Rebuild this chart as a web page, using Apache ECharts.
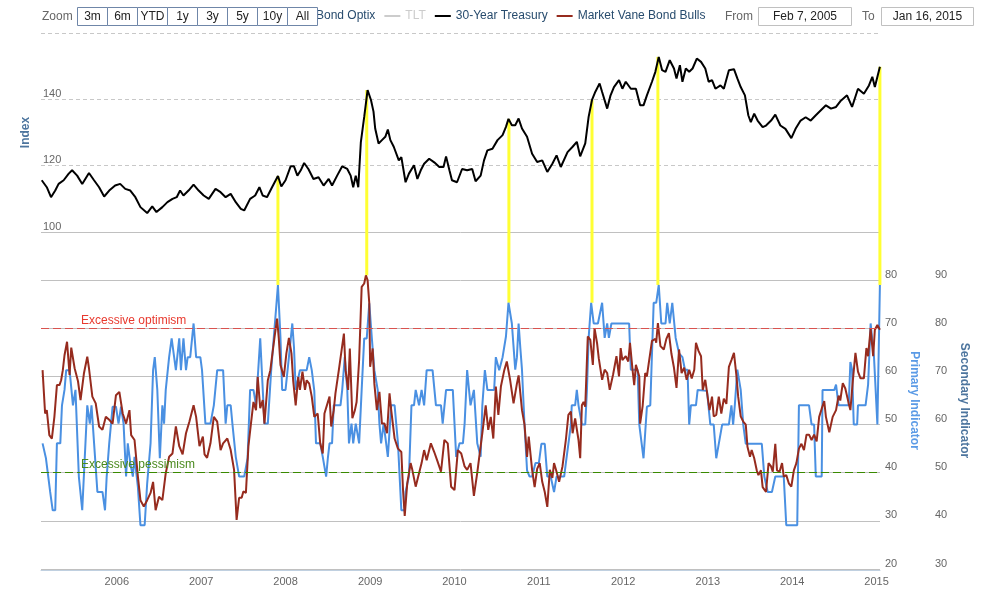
<!DOCTYPE html>
<html><head><meta charset="utf-8">
<script src="https://cdn.jsdelivr.net/npm/echarts@6/dist/echarts.min.js"></script>
<style>html,body{margin:0;padding:0;background:#fff}#c{width:992px;height:591px}</style>
</head><body><div id="c"></div>
<script>
// ---- 30-Year Treasury (upper pane, Index) : decimal-year dates and values
const treasuryT = [2005.11,2005.17,2005.22,2005.27,2005.31,2005.37,2005.43,2005.47,2005.53,2005.59,2005.67,2005.73,2005.79,2005.85,2005.91,2005.98,2006.04,2006.10,2006.16,2006.22,2006.28,2006.36,2006.42,2006.47,2006.54,2006.60,2006.66,2006.71,2006.75,2006.79,2006.85,2006.91,2006.97,2007.03,2007.09,2007.17,2007.23,2007.29,2007.35,2007.41,2007.47,2007.51,2007.58,2007.64,2007.69,2007.73,2007.78,2007.84,2007.91,2007.95,2008.00,2008.06,2008.10,2008.14,2008.18,2008.22,2008.27,2008.33,2008.39,2008.45,2008.51,2008.55,2008.61,2008.67,2008.73,2008.77,2008.80,2008.83,2008.86,2008.89,2008.93,2008.97,2009.01,2009.04,2009.06,2009.10,2009.14,2009.18,2009.21,2009.24,2009.28,2009.34,2009.37,2009.42,2009.46,2009.52,2009.56,2009.60,2009.64,2009.70,2009.76,2009.82,2009.87,2009.90,2009.94,2009.97,2010.03,2010.09,2010.15,2010.21,2010.25,2010.31,2010.35,2010.39,2010.45,2010.51,2010.57,2010.61,2010.64,2010.68,2010.72,2010.76,2010.80,2010.86,2010.92,2010.98,2011.04,2011.10,2011.16,2011.21,2011.26,2011.34,2011.40,2011.45,2011.49,2011.55,2011.59,2011.63,2011.67,2011.72,2011.75,2011.81,2011.85,2011.89,2011.95,2011.99,2012.03,2012.09,2012.15,2012.20,2012.24,2012.28,2012.34,2012.38,2012.42,2012.46,2012.50,2012.55,2012.60,2012.63,2012.67,2012.70,2012.74,2012.78,2012.82,2012.87,2012.92,2012.97,2013.01,2013.05,2013.09,2013.15,2013.19,2013.25,2013.31,2013.35,2013.39,2013.44,2013.48,2013.51,2013.55,2013.59,2013.65,2013.69,2013.75,2013.80,2013.86,2013.92,2013.99,2014.04,2014.10,2014.16,2014.22,2014.28,2014.34,2014.40,2014.46,2014.52,2014.57,2014.65,2014.71,2014.78,2014.85,2014.91,2014.95,2014.98,2015.04];
const treasuryV = [115.6,113.5,110.5,112.5,114.5,115.6,117.6,118.6,117,114.5,117.8,115.6,113.5,110.7,112.5,114,114.5,113,112.5,110.5,107.5,105.7,107.7,106,107.5,109,110,110.5,112.5,111,112.5,114.3,112.5,111,110,113,112,110.5,111.5,109,107,106.5,110,111,113.5,111,110.5,113.5,116.9,113.7,115.6,119.8,119.8,117,118.6,120.8,119,116,116.5,114,116,114,117,119.8,119,117,113.5,117,113.5,127,134.7,142.8,139.8,136.3,131.2,126.7,127.7,128.7,130.9,127.7,125.7,121.6,122.6,115,117.6,120.1,116,118.6,120.6,122.1,121,119.6,119.6,122.8,118.6,115.6,115,119,118.6,119,115.3,117,121.6,124.6,125.1,127.7,129.2,131.7,134.1,132.2,132.2,134.2,131.2,128.7,123.6,121.1,121.6,118.1,120.6,123.1,119.6,124.1,125.7,127.2,122.8,126.7,134.7,139.8,142.3,144.8,142.2,137.2,141.2,143.7,145.8,143.2,145.3,143.2,143.2,138.2,138.2,141.2,145.3,148.3,152.8,148.8,148.3,151.8,149.3,146.3,150.3,145.3,149.3,148.3,149.3,152.3,151.3,149.3,145.3,145.8,143.2,144.2,143.2,148.8,149.1,146.3,143.7,141.2,135.2,133.1,135.7,133.6,131.6,132.1,133.6,135.4,132.1,131.1,128.3,131.1,133.6,134.6,133.6,135.2,136.7,138.2,137.2,137.7,139.4,141.2,137.7,143.2,141.7,144.2,146.8,143.7,149.8];

// ---- Bond Optix (lower pane, primary indicator)
const optixT = [2005.12,2005.16,2005.21,2005.24,2005.27,2005.29,2005.33,2005.35,2005.38,2005.40,2005.44,2005.48,2005.50,2005.51,2005.53,2005.55,2005.59,2005.61,2005.65,2005.67,2005.68,2005.70,2005.72,2005.77,2005.83,2005.86,2005.88,2005.91,2005.95,2005.99,2006.02,2006.05,2006.08,2006.11,2006.13,2006.16,2006.19,2006.21,2006.25,2006.28,2006.33,2006.36,2006.40,2006.43,2006.45,2006.48,2006.51,2006.54,2006.56,2006.58,2006.62,2006.65,2006.67,2006.70,2006.74,2006.76,2006.79,2006.82,2006.84,2006.87,2006.91,2006.94,2006.99,2007.01,2007.03,2007.05,2007.11,2007.15,2007.19,2007.26,2007.29,2007.31,2007.35,2007.37,2007.41,2007.45,2007.51,2007.55,2007.58,2007.62,2007.65,2007.70,2007.73,2007.75,2007.79,2007.83,2007.86,2007.88,2007.91,2007.94,2007.96,2008.00,2008.04,2008.08,2008.10,2008.12,2008.14,2008.17,2008.25,2008.28,2008.31,2008.34,2008.36,2008.41,2008.44,2008.48,2008.50,2008.52,2008.55,2008.57,2008.65,2008.67,2008.70,2008.73,2008.75,2008.78,2008.80,2008.83,2008.87,2008.90,2008.93,2008.96,2008.99,2009.02,2009.05,2009.09,2009.11,2009.13,2009.16,2009.19,2009.21,2009.25,2009.29,2009.33,2009.37,2009.41,2009.42,2009.46,2009.49,2009.52,2009.54,2009.58,2009.61,2009.64,2009.67,2009.74,2009.78,2009.84,2009.86,2009.90,2009.98,2010.02,2010.06,2010.10,2010.12,2010.15,2010.19,2010.23,2010.27,2010.31,2010.33,2010.36,2010.39,2010.47,2010.49,2010.53,2010.57,2010.61,2010.64,2010.66,2010.68,2010.72,2010.74,2010.76,2010.78,2010.80,2010.83,2010.86,2010.89,2010.92,2010.96,2011.00,2011.03,2011.07,2011.10,2011.14,2011.18,2011.21,2011.30,2011.32,2011.35,2011.38,2011.39,2011.43,2011.45,2011.47,2011.51,2011.55,2011.57,2011.59,2011.62,2011.65,2011.70,2011.75,2011.78,2011.81,2011.83,2011.86,2012.07,2012.09,2012.17,2012.19,2012.24,2012.28,2012.32,2012.36,2012.39,2012.42,2012.45,2012.50,2012.52,2012.55,2012.58,2012.62,2012.66,2012.70,2012.73,2012.76,2012.78,2012.80,2012.86,2012.88,2012.99,2013.03,2013.07,2013.10,2013.13,2013.17,2013.25,2013.28,2013.30,2013.32,2013.35,2013.39,2013.42,2013.45,2013.64,2013.67,2013.71,2013.76,2013.80,2013.90,2013.93,2014.06,2014.08,2014.20,2014.23,2014.26,2014.28,2014.35,2014.36,2014.50,2014.52,2014.55,2014.67,2014.69,2014.71,2014.73,2014.77,2014.78,2014.87,2014.90,2014.93,2014.97,2015.01,2015.04];
const optixV = [46.1,43,36,32.2,32.2,46.1,46.1,54,57.2,61.3,61.3,54,54,57.2,57.2,39.2,32.2,32.2,54,54,50.2,54,54,36,36,32.2,39.2,46.1,53.7,53.7,50.2,53.7,50.2,39.2,46.1,42,39.2,43.3,37,29.1,29.1,37.8,46.1,61.3,64,57.2,43,54,50.2,57.2,64,67.9,67.9,61.3,67.9,61.3,67.9,61.3,64,64,71,64,64,61.3,61.3,50.2,50.2,54,61.3,61.3,50.2,54,54,50.2,43.3,39.2,39.2,43,57.2,57.2,54,67.9,57.2,50.2,50.2,61.3,67.9,67.9,79,68,57.2,57.2,64,71,66,57.2,57.2,61.3,61.3,64,61.3,57,46.1,46.1,43.3,39.2,43,46.1,46.1,54,54,57.2,64,57.2,46.1,50.2,46.1,50.2,46.1,57.2,67.9,67.9,75.2,68,61.3,57.2,50.2,46.1,50.2,46.1,43.3,54,54,46.1,32.2,32.2,36,39.2,54,54,57.2,54,57.2,54,61.3,61.3,54,54,50.2,57.2,57.2,43.3,46.1,46.1,50.2,61.3,54,57.2,46.1,43.3,54,61.3,57.2,57.2,64,61.3,64,68.3,75.3,75.3,71,61.4,64,71,66,61.4,50,40.5,39.2,39.2,42,42,46,46,39.2,39.2,36,39.2,39.2,42,46,50,54,54,57.2,54,50,50,57.2,68,75.3,71,71,75.3,68,71,68,71,71,61.4,61.4,50,43,53.7,54,75.3,75.3,79,71,71,75.3,71,75.3,68,64.8,64,61.4,61.4,50,54,54,57.2,57,50,50,43,46,50,50,54,50,54,61.4,57.2,50,46,46,39.2,36,36,39.2,39.2,29.1,29.1,54,54,50,50,39.2,39.2,57.2,57.2,58.3,54,54,63,61.4,50,50,54,54,58.3,71,64,50,79];

// ---- Market Vane Bond Bulls (lower pane, secondary indicator)
const vaneT = [2005.12,2005.15,2005.17,2005.20,2005.23,2005.26,2005.29,2005.32,2005.34,2005.36,2005.38,2005.41,2005.44,2005.46,2005.50,2005.54,2005.57,2005.61,2005.65,2005.67,2005.71,2005.75,2005.79,2005.83,2005.87,2005.91,2005.95,2005.99,2006.03,2006.07,2006.11,2006.15,2006.17,2006.21,2006.25,2006.28,2006.32,2006.36,2006.40,2006.43,2006.46,2006.50,2006.54,2006.58,2006.62,2006.66,2006.70,2006.74,2006.78,2006.82,2006.86,2006.91,2006.94,2006.98,2007.02,2007.04,2007.07,2007.11,2007.15,2007.19,2007.23,2007.26,2007.31,2007.35,2007.39,2007.42,2007.45,2007.48,2007.50,2007.53,2007.56,2007.59,2007.62,2007.65,2007.67,2007.70,2007.73,2007.75,2007.79,2007.82,2007.84,2007.87,2007.90,2007.92,2007.94,2007.98,2008.01,2008.04,2008.07,2008.09,2008.12,2008.15,2008.17,2008.20,2008.23,2008.25,2008.28,2008.31,2008.34,2008.38,2008.41,2008.44,2008.46,2008.52,2008.54,2008.57,2008.59,2008.63,2008.65,2008.69,2008.71,2008.74,2008.76,2008.79,2008.82,2008.84,2008.87,2008.90,2008.93,2008.95,2008.97,2008.99,2009.00,2009.03,2009.05,2009.08,2009.11,2009.14,2009.17,2009.20,2009.23,2009.25,2009.29,2009.33,2009.37,2009.39,2009.41,2009.44,2009.48,2009.50,2009.54,2009.57,2009.61,2009.64,2009.67,2009.72,2009.76,2009.80,2009.84,2009.88,2009.92,2009.96,2010.00,2010.04,2010.08,2010.12,2010.15,2010.19,2010.23,2010.27,2010.31,2010.33,2010.37,2010.40,2010.43,2010.46,2010.49,2010.52,2010.55,2010.59,2010.62,2010.66,2010.70,2010.74,2010.76,2010.80,2010.83,2010.86,2010.88,2010.92,2010.95,2010.98,2011.01,2011.04,2011.07,2011.10,2011.13,2011.16,2011.18,2011.21,2011.24,2011.28,2011.32,2011.35,2011.38,2011.40,2011.43,2011.47,2011.49,2011.51,2011.53,2011.55,2011.58,2011.61,2011.64,2011.66,2011.69,2011.71,2011.75,2011.78,2011.81,2011.84,2011.88,2011.92,2011.95,2011.97,2011.99,2012.03,2012.06,2012.08,2012.11,2012.13,2012.15,2012.19,2012.20,2012.23,2012.26,2012.28,2012.30,2012.34,2012.38,2012.39,2012.41,2012.44,2012.48,2012.51,2012.54,2012.57,2012.60,2012.63,2012.66,2012.69,2012.72,2012.75,2012.78,2012.81,2012.84,2012.86,2012.89,2012.92,2012.94,2012.97,2012.99,2013.02,2013.05,2013.07,2013.10,2013.13,2013.16,2013.19,2013.22,2013.25,2013.28,2013.31,2013.34,2013.36,2013.39,2013.42,2013.45,2013.47,2013.50,2013.52,2013.55,2013.58,2013.60,2013.63,2013.65,2013.69,2013.72,2013.75,2013.77,2013.80,2013.82,2013.85,2013.88,2013.90,2013.93,2013.96,2013.99,2014.02,2014.05,2014.08,2014.11,2014.14,2014.17,2014.20,2014.23,2014.26,2014.29,2014.32,2014.35,2014.38,2014.40,2014.44,2014.48,2014.52,2014.55,2014.57,2014.60,2014.63,2014.67,2014.69,2014.72,2014.75,2014.78,2014.81,2014.85,2014.88,2014.90,2014.93,2014.96,2014.98,2015.01,2015.04];
const vaneV = [71.3,62.3,63,57.8,57.1,61.6,68.2,68.2,69.2,71.3,74.4,77.2,70.3,76,71.7,69,65.1,70.6,74.1,71.7,65.8,64.4,59.6,58.9,61.6,61,60.2,66.1,66.8,62.3,60.2,63,57.8,56.8,49.2,44.3,43,44.3,45.8,48.1,42.2,45,44.3,49.9,53.3,54,59.6,55.5,53.8,58.2,60.6,64,61.6,55.5,57.5,53.8,53.1,56.1,61.6,60.6,54.7,56.1,57.1,54.7,50.6,40.2,44.8,44.8,46.1,45.8,55.5,60.2,64.7,63,69.9,63.4,65.1,60.2,69.2,71.3,74.1,78.2,82,77.9,72.4,69.9,74.8,78,74.8,69.2,64,69.9,67.2,71,67.2,69.2,68.5,65.8,61.6,62.3,56.1,54,62.3,65.8,59.6,63,66.5,71.3,71.3,78.9,71.3,67.2,75.8,61.3,63,64.7,73.4,88.6,89.3,91,90,85.2,72,75.8,68.5,63,66.8,60.2,60.2,58.2,66.5,63,57.1,55,54.3,46.4,41,47.8,52,50.6,47.1,49.2,52,54.7,52.6,56.1,54.3,52.3,50.2,56.8,56.1,47.1,46.4,54.7,54,51.3,50.6,52,45.2,50,55.5,58.2,64,58.9,61.6,57.1,67.9,62,67.9,71.3,73.1,69.2,64.4,68.5,70.2,63,60,53.3,57.5,50.6,47,50.8,52,48.1,46,42.9,50.6,48.9,52,50.2,48.1,51.3,56.8,62,62.7,58.2,61.3,56.8,53,64,64.7,63.7,78.3,77.6,72.4,80,76.9,73.8,69.3,71.4,70.7,67.2,70.4,74.2,70,75.9,73.4,74.2,73.1,77,71.4,68.2,72.4,70,60.2,63.9,70.7,70,72.5,77.4,77.8,77,81.1,76.3,75.6,77.8,79,74.7,71.8,67.6,75.6,70.7,71.8,69.3,71.4,69.6,71.4,77,75.3,74.2,67.2,69.3,66.8,63,65.8,61.7,62,65.8,62.3,65.4,64.3,72,73.4,74.9,70,65.8,61.7,60.6,60,55.4,53.3,54.7,53,50.5,49.5,50.5,47,46,52,51.3,50.2,56,50.5,50.2,52,49.2,49.5,47.8,47.1,50.5,52,55,56,54.7,57.9,57.9,56.8,57.9,56.5,61.6,63.3,64.9,61.6,58.4,61.6,63,66,65,68.6,67.5,64.4,63,69.3,74.9,71,69.6,69.6,75.9,74.2,80,74.2,79.7,80.7,79.7];

// ---- Signal dates (yellow connectors): treasury value and indicator peak
const signalT = [2007.91, 2008.96, 2010.645, 2011.63, 2012.41, 2015.04];
const signalTop = [116.9, 142.8, 134.1, 139.8, 152.8, 149.8];
const signalBottom = [79, 81, 75.3, 75.3, 79, 79];

const zoomButtons = ['3m','6m','YTD','1y','3y','5y','10y','All'];
const yearTicksLabel = v => String(new Date(v).getUTCFullYear());

function toTime(y){ const yr=Math.floor(y); const a=Date.UTC(yr,0,1), b=Date.UTC(yr+1,0,1); return a+(y-yr)*(b-a); }
const zip = (t,v) => t.map((x,i)=>[toTime(x), v[i]]);
const startT = Date.UTC(2005,1,7), endT = Date.UTC(2015,0,16);
const FONT = 'Liberation Sans, Arial, Helvetica, sans-serif';
const YEAR = 365*86400000;

const chart = echarts.init(document.getElementById('c'), null, {renderer:'canvas'});
const option = {
  animation:false,
  useUTC:true,
  textStyle:{fontFamily:FONT},
  legend:{
    data:['Bond Optix','TLT','30-Year Treasury','Market Vane Bond Bulls'],
    selected:{'TLT':false},
    left:295, top:10, padding:0, itemGap:9, itemWidth:16, itemHeight:2, icon:'rect',
    inactiveColor:'#cccccc',
    textStyle:{color:'#274b6d', fontSize:12, fontFamily:FONT}
  },
  grid:[
    {left:41, right:112, top:33, height:199},
    {left:41, right:112, top:232, height:337}
  ],
  xAxis:[
    {type:'time', gridIndex:0, min:startT, max:endT, show:false},
    {type:'time', gridIndex:1, min:startT, max:endT, minInterval:YEAR, maxInterval:YEAR+2*86400000, splitNumber:10, offset:1,
     axisLine:{show:true, lineStyle:{color:'#c0d0e0', width:1}}, axisTick:{show:false},
     splitLine:{show:false},
     axisLabel:{formatter:yearTicksLabel, color:'#666', fontSize:11, margin:6, fontFamily:FONT, hideOverlap:false, interval:0}}
  ],
  yAxis:[
    {type:'value', gridIndex:0, min:100, max:160, interval:20, position:'left',
     name:'Index', nameLocation:'middle', nameGap:9,
     nameTextStyle:{color:'#4d759e', fontWeight:'bold', fontSize:12, fontFamily:FONT},
     axisLine:{show:false}, axisTick:{show:false},
     axisLabel:{inside:true, showMaxLabel:false, verticalAlign:'bottom', margin:2, color:'#666', fontSize:11, fontFamily:FONT},
     splitLine:{lineStyle:{color:'#c8c8c8', type:[4,3], width:1}}},
    {type:'value', gridIndex:1, min:20, max:90, interval:10, position:'right',
     name:'Primary Indicator', nameLocation:'middle', nameRotate:-90, nameGap:25,
     nameTextStyle:{color:'#5b9be6', fontWeight:'bold', fontSize:12, fontFamily:FONT},
     axisLine:{show:false}, axisTick:{show:false},
     axisLabel:{showMaxLabel:false, color:'#666', fontSize:11, margin:5, verticalAlign:'bottom', fontFamily:FONT},
     splitLine:{lineStyle:{color:'#c0c0c0', width:1}}},
    {type:'value', gridIndex:1, min:30, max:100, interval:10, position:'right', offset:50,
     name:'Secondary Indicator', nameLocation:'middle', nameRotate:-90, nameGap:26,
     nameTextStyle:{color:'#4d759e', fontWeight:'bold', fontSize:12, fontFamily:FONT},
     axisLine:{show:false}, axisTick:{show:false},
     axisLabel:{showMaxLabel:false, color:'#666', fontSize:11, margin:5, verticalAlign:'bottom', fontFamily:FONT},
     splitLine:{show:false}}
  ],
  series:[
    {name:'Bond Optix', type:'line', xAxisIndex:1, yAxisIndex:1, data:zip(optixT,optixV),
     color:'#4a90e2', showSymbol:false, lineStyle:{width:2, color:'#4a90e2'},
     markLine:{symbol:['none','none'], silent:true, animation:false,
       data:[
        {yAxis:70, lineStyle:{color:'#d9534f', type:[8,4], width:1},
         label:{show:true, formatter:'Excessive optimism', position:'insideStartTop', distance:[40,2], color:'#e8392e', fontSize:12, fontFamily:FONT}},
        {yAxis:40, lineStyle:{color:'#3a8a00', type:[8,4], width:1},
         label:{show:true, formatter:'Excessive pessimism', position:'insideStartTop', distance:[40,2], color:'#4a8a1e', fontSize:12, fontFamily:FONT}}
       ]}},
    {name:'TLT', type:'line', xAxisIndex:1, yAxisIndex:1, data:[], color:'#999', showSymbol:false},
    {name:'30-Year Treasury', type:'line', xAxisIndex:0, yAxisIndex:0, data:zip(treasuryT,treasuryV),
     color:'#000', showSymbol:false, lineStyle:{width:2, color:'#000'}},
    {name:'Market Vane Bond Bulls', type:'line', xAxisIndex:1, yAxisIndex:2, data:zip(vaneT,vaneV),
     color:'#962b1e', showSymbol:false, lineStyle:{width:2, color:'#962b1e'}}
  ]
};
chart.setOption(option);

// Range selector & date inputs (decoration), plus yellow connector lines via axis scales
const g = [];
g.push({type:'text', z:100, style:{text:'Zoom', x:42, y:17, textAlign:'left', textVerticalAlign:'middle', verticalAlign:'middle', font:'12px '+FONT, fill:'#666'}});
zoomButtons.forEach((b,i)=>{
  g.push({type:'rect', z:100, shape:{x:77.5+30*i, y:7.5, width:30, height:18}, style:{fill:'#fff', stroke:'#6f86a8', lineWidth:1}});
  g.push({type:'text', z:101, style:{text:b, x:92.5+30*i, y:16.5, textAlign:'center', textVerticalAlign:'middle', verticalAlign:'middle', font:'12px '+FONT, fill:'#222'}});
});
g.push({type:'text', z:100, style:{text:'From', x:725, y:17, textAlign:'left', textVerticalAlign:'middle', verticalAlign:'middle', font:'12px '+FONT, fill:'#666'}});
g.push({type:'rect', z:100, shape:{x:758.5, y:7.5, width:93, height:18}, style:{fill:'#fff', stroke:'#c0c0c0', lineWidth:1}});
g.push({type:'text', z:101, style:{text:'Feb 7, 2005', x:805, y:16.5, textAlign:'center', textVerticalAlign:'middle', verticalAlign:'middle', font:'12px '+FONT, fill:'#222'}});
g.push({type:'text', z:100, style:{text:'To', x:862, y:17, textAlign:'left', textVerticalAlign:'middle', verticalAlign:'middle', font:'12px '+FONT, fill:'#666'}});
g.push({type:'rect', z:100, shape:{x:881.5, y:7.5, width:92, height:18}, style:{fill:'#fff', stroke:'#c0c0c0', lineWidth:1}});
g.push({type:'text', z:101, style:{text:'Jan 16, 2015', x:927.5, y:16.5, textAlign:'center', textVerticalAlign:'middle', verticalAlign:'middle', font:'12px '+FONT, fill:'#222'}});

signalT.forEach((t,i)=>{
  const p1 = chart.convertToPixel({xAxisIndex:0, yAxisIndex:0}, [toTime(t), signalTop[i]]);
  const p2 = chart.convertToPixel({xAxisIndex:1, yAxisIndex:1}, [toTime(t), signalBottom[i]]);
  g.push({type:'line', z:1, silent:true, shape:{x1:p1[0], y1:p1[1], x2:p2[0], y2:p2[1]}, style:{stroke:'#ffff33', lineWidth:3}});
});
chart.setOption({graphic:g});
</script></body></html>
